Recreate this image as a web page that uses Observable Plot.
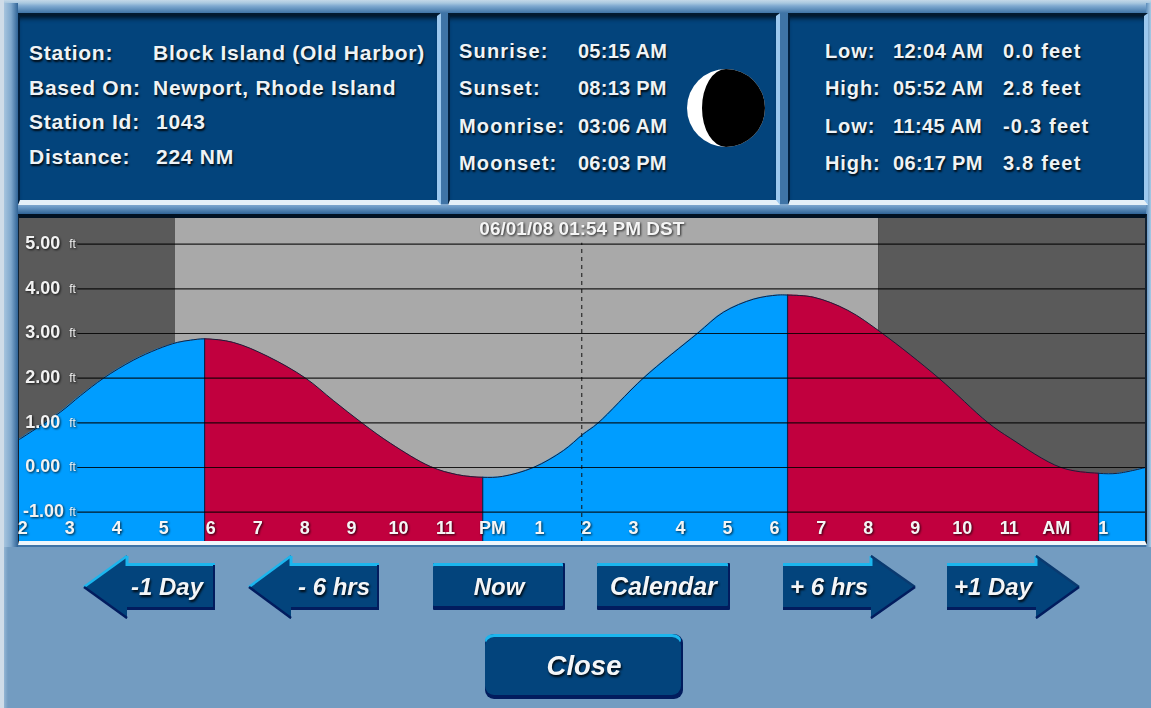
<!DOCTYPE html>
<html><head><meta charset="utf-8">
<script src="https://cdn.jsdelivr.net/npm/d3@7"></script>
<script src="https://cdn.jsdelivr.net/npm/@observablehq/plot@0.6"></script>
<style>
html,body{margin:0;padding:0;background:#739cc1;overflow:hidden}
body{width:1151px;height:708px;position:relative;font-family:"Liberation Sans",Arial,sans-serif}
#edge{position:absolute;left:0;top:0;width:4px;height:708px;background:#cfdce8}
#edge2{position:absolute;left:4px;top:547px;width:4px;height:161px;background:linear-gradient(90deg,#93b5d3,#739cc1)}
#frame{position:absolute;left:4px;top:0;width:1147px;height:547px;background:linear-gradient(#c4d8e8 0,#a9c8df 3px,#7fa9d0 6px,#3f74a6 13px,#3f74a6 100%)}
#frame:before{content:"";position:absolute;left:0;top:3px;width:14px;height:544px;background:linear-gradient(90deg,#a6c4de,#7fa8cd 50%,#2f6396)}
#frame:after{content:"";position:absolute;right:0;top:3px;width:5px;height:544px;background:linear-gradient(90deg,#5c8dbb,#a9cbe6)}
.band{position:absolute;left:18px;width:1128px;height:10px;top:204px;background:linear-gradient(#86acd0,#6b9ac6 30%,#2f6396)}
.panel{position:absolute;box-sizing:border-box;top:13px;height:192px;background:#03447c;border-top:3px solid #021a30;border-left:2px solid #01203f;border-right:4px solid #9cc8ee;border-bottom:5px solid #e4f0f8;box-shadow:inset 0 5px 5px -3px #012}
.row{position:absolute;color:#eef3f6;font-weight:bold;line-height:24px;white-space:nowrap;text-shadow:1px 2px 2px rgba(0,0,0,.85)}
#chart{position:absolute;left:19px;top:218px;width:1126px;height:323px}
#chartFrame{position:absolute;left:18px;top:214px;width:1129px;height:331px;box-sizing:border-box;background:#000;border-top:4px solid #012;border-left:1px solid #123;border-right:2px solid #123;border-bottom:4px solid #eef6fb}
#chart text{filter:drop-shadow(1px 1.5px 1px rgba(0,0,0,.75))}
#chrome{position:absolute;left:0;top:0}
</style></head>
<body>
<div id="edge"></div><div id="edge2"></div>
<div id="frame"></div><div class="band"></div>
<div class="panel" style="left:18px;width:423px"></div>
<div class="panel" style="left:448px;width:332px"></div>
<div class="panel" style="left:788px;width:360px"></div>
<div id="chartFrame"></div>
<div id="chart"></div>
<script>
const tideHours = [1.93,2.80,3.23,3.72,4.35,4.87,5.29,5.57,5.87,6.48,7.21,8.02,8.61,9.23,9.83,10.68,11.25,11.79,12.21,12.87,13.51,13.92,14.24,15.21,16.36,16.92,17.56,18.07,18.28,18.84,19.56,20.30,21.50,22.54,23.03,24.10,24.90,25.31,25.90];
const tideFeet  = [0.63,1.24,1.61,2.00,2.40,2.65,2.80,2.85,2.88,2.80,2.49,2.00,1.50,0.99,0.54,0.02,-0.16,-0.22,-0.20,0.00,0.38,0.74,0.99,2.00,3.00,3.48,3.77,3.86,3.86,3.81,3.52,3.00,2.00,1.01,0.65,0.00,-0.13,-0.13,0.00];
const turnHours = [5.87,11.79,18.28,24.90];
const turnFeet  = [2.88,-0.22,3.86,-0.13];
const sunriseHour = 5.25, sunsetHour = 20.22, nowHour = 13.9;
const nowLabel = "06/01/08 01:54 PM DST";
const levels = [5,4,3,2,1,0,-1];
const hourValues = [2,3,4,5,6,7,8,9,10,11,12,13,14,15,16,17,18,19,20,21,22,23,24,25];
const hourLabels = ["2","3","4","5","6","7","8","9","10","11","PM","1","2","3","4","5","6","7","8","9","10","11","AM","1"];
const stationLabels = ["Station:","Based On:","Station Id:","Distance:"];
const stationValues = ["Block Island (Old Harbor)","Newport, Rhode Island","1043","224 NM"];
const sunLabels = ["Sunrise:","Sunset:","Moonrise:","Moonset:"];
const sunValues = ["05:15 AM","08:13 PM","03:06 AM","06:03 PM"];
const tideKinds = ["Low:","High:","Low:","High:"];
const tideTimes = ["12:04 AM","05:52 AM","11:45 AM","06:17 PM"];
const tideLevels = ["0.0 feet","2.8 feet","-0.3 feet","3.8 feet"];

const xMin = 1.93, xMax = 25.9, yMin = -1.657, yMax = 5.574;
const tide = tideHours.map((h,i)=>({h,ft:tideFeet[i]}));
const turns = turnHours.map((h,i)=>({h,ft:turnFeet[i]}));
const hours = hourValues.map((h,i)=>({h,label:hourLabels[i]}));
const bands = [
  {x1:xMin,x2:sunriseHour,c:"#5a5a5a"},
  {x1:sunriseHour,x2:sunsetHour,c:"#a9a9a9"},
  {x1:sunsetHour,x2:xMax,c:"#5a5a5a"}
];
const BLUE="#009dff", RED="#c1003e";
const segs=[[xMin,5.87,BLUE],[5.87,11.79,RED],[11.79,18.28,BLUE],[18.28,24.90,RED],[24.90,xMax,BLUE]];
const font='"Liberation Sans",Arial,sans-serif';
const CURVE="catmull-rom";

const chart = Plot.plot({
  width:1126,height:323,margin:0,
  x:{domain:[xMin,xMax],axis:null},
  y:{domain:[yMin,yMax],axis:null},
  style:{background:"none",overflow:"visible",display:"block"},
  marks:[
    Plot.rect(bands,{x1:"x1",x2:"x2",y1:()=>yMin,y2:()=>yMax,fill:"c"}),
    ...segs.map(([a,b,c])=>Plot.areaY(tide.filter(d=>d.h>=a&&d.h<=b),{x:"h",y1:()=>yMin,y2:"ft",fill:c,curve:CURVE})),
    Plot.line(tide,{x:"h",y:"ft",stroke:"#1a1f3a",strokeWidth:1,curve:CURVE}),
    Plot.ruleX(turns,{x:"h",y1:()=>yMin,y2:"ft",stroke:"#14204a",strokeWidth:1.2}),
    Plot.ruleX([nowHour],{y1:yMin,y2:5.02,stroke:"#111",strokeWidth:1,strokeDasharray:"4,4"}),
    Plot.ruleY(levels,{x1:()=>3.17,x2:()=>xMax,stroke:"#000",strokeOpacity:.85,strokeWidth:1.2}),
    Plot.text(levels,{x:d=>d<0?2.88:2.8,y:d=>d,dy:-1,text:d=>d.toFixed(2),textAnchor:"end",fill:"#f2f2f2",fontWeight:"bold",fontSize:18,fontFamily:font}),
    Plot.text(levels,{x:()=>3.06,y:d=>d,text:()=>"ft",fill:"#f2f2f2",fontSize:12,fontFamily:font}),
    Plot.text(hours,{x:"h",y:()=>-1.37,text:"label",fill:"#f5f5f5",fontWeight:"bold",fontSize:18,fontFamily:font}),
    Plot.text([nowLabel],{x:()=>nowHour,y:()=>5.33,text:d=>d,fill:"#f5f5f5",fontWeight:"bold",fontSize:19,fontFamily:font})
  ]
});
document.getElementById("chart").append(chart);

function addColumn(list,x,ys,size,spacing){
  list.forEach((t,i)=>{
    const xi = Array.isArray(x)?x[i]:x;
    d3.select("body").append("div").attr("class","row")
      .style("left",xi+"px").style("top",(ys[i]-12)+"px")
      .style("font-size",size+"px").style("letter-spacing",spacing+"px").text(t);
  });
}
addColumn(stationLabels,29,[53,88,122,157],21,.75);
addColumn(stationValues,[153,153,156,156],[53,88,122,157],21,.75);
const rowY=[51,88,126,163];
addColumn(sunLabels,459,rowY,20,1.2);
addColumn(sunValues,578,rowY,20,.25);
addColumn(tideKinds,825,rowY,20,.9);
addColumn(tideTimes,893,rowY,20,.4);
addColumn(tideLevels,1003,rowY,20,1.2);

// moon, and the navigation buttons of the instrument screen
const ns=d3.select("body").append("svg").attr("id","chrome").attr("width",1151).attr("height",708).style("pointer-events","none");
ns.append("circle").attr("cx",726).attr("cy",108).attr("r",39).attr("fill","#fff");
ns.append("path").attr("d","M726,69A39,39 0 0 1 726,147A24,39 0 0 1 726,69").attr("fill","#000");

const buttons=[
 {label:"-1 Day",dir:-1,tip:84,neck:127,end:215,size:24,tx:167},
 {label:"- 6 hrs",dir:-1,tip:249,neck:291,end:379,size:24,tx:334},
 {label:"+ 6 hrs",dir:1,tip:915,neck:871,end:783,size:24,tx:829},
 {label:"+1 Day",dir:1,tip:1079,neck:1036,end:947,size:24,tx:993}
];
buttons.forEach(b=>{
  const t=563,bm=610,mid=587,ht=555,hb=619;
  const pts=[[b.end,t],[b.neck,t],[b.neck,ht],[b.tip,mid],[b.neck,hb],[b.neck,bm],[b.end,bm]];
  ns.append("polygon").attr("points",pts.join(" ")).attr("fill","#03447c");
  const line=(p,c,w)=>ns.append("polyline").attr("points",p.join(" ")).attr("fill","none").attr("stroke",c).attr("stroke-width",w);
  line([[b.end,t+1.5],[b.neck,t+1.5],[b.neck,ht+1]],"#1cb6ee",3);
  line([[b.end,bm-1.5],[b.neck,bm-1.5]],"#021c5e",3);
  line([[b.neck,ht+1],[b.tip,mid]],b.dir<0?"#1cb6ee":"#0a3a70",2.5);
  line([[b.tip,mid],[b.neck,hb-1]],"#021c5e",2.5);
  if(b.dir<0) line([[b.end-1,t+2],[b.end-1,bm-2]],"#021c5e",2);
  ns.append("text").attr("x",b.tx).attr("y",mid+8).attr("text-anchor","middle")
    .attr("font-family",font).attr("font-weight","bold").attr("font-style","italic").attr("font-size",b.size).attr("fill","#f4f6f8")
    .style("filter","drop-shadow(1px 2px 1px rgba(0,0,0,.9))").text(b.label);
});
const rects=[
 {label:"Now",x:433,w:132,y:563,h:47,size:24,r:1},
 {label:"Calendar",x:597,w:133,y:563,h:47,size:25,r:1},
 {label:"Close",x:485,w:198,y:634,h:65,size:27.5,r:9}
];
rects.forEach(b=>{
  ns.append("rect").attr("x",b.x).attr("y",b.y).attr("width",b.w).attr("height",b.h).attr("rx",b.r).attr("fill","#021c5e");
  ns.append("rect").attr("x",b.x).attr("y",b.y).attr("width",b.w-2).attr("height",12).attr("rx",b.r).attr("fill","#1cb6ee");
  ns.append("rect").attr("x",b.x).attr("y",b.y+3).attr("width",b.w-2).attr("height",b.h-7).attr("rx",b.r).attr("fill","#03447c");
  ns.append("text").attr("x",b.x+b.w/2).attr("y",b.y+b.h/2+8).attr("text-anchor","middle")
    .attr("font-family",font).attr("font-weight","bold").attr("font-style","italic").attr("font-size",b.size).attr("fill","#f4f6f8")
    .style("filter","drop-shadow(1px 2px 1px rgba(0,0,0,.9))").text(b.label);
});
</script>
</body></html>
